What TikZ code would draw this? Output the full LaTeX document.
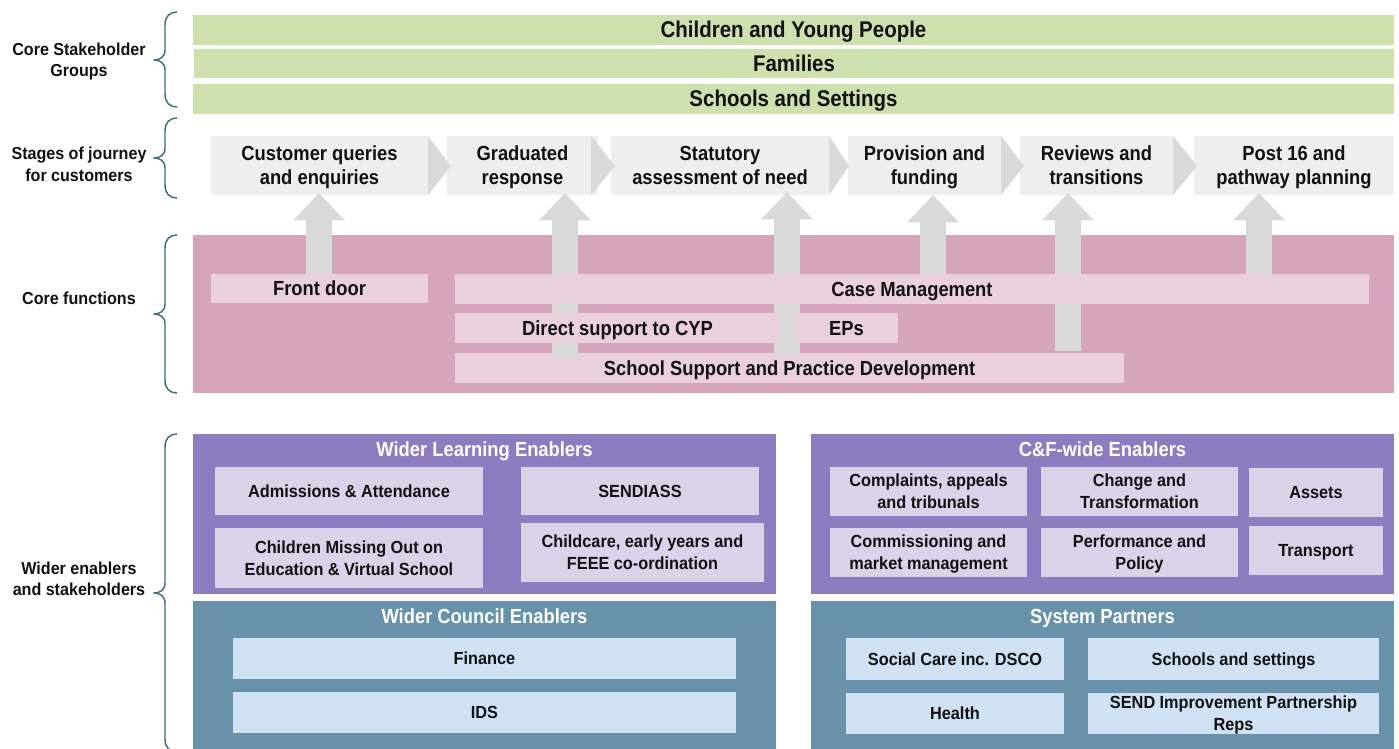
\documentclass[tikz,border=0pt]{standalone}
\usepackage{fontspec}
\setmainfont{Liberation Sans}
\newfontfamily\condfont{Liberation Sans}[FakeStretch=0.9]
\newfontfamily\midfont{Liberation Sans}[FakeStretch=0.93]
\usetikzlibrary{arrows.meta}
\definecolor{greenbar}{HTML}{CDE0AE}
\definecolor{stagegrey}{HTML}{EEEEEE}
\definecolor{chevgrey}{HTML}{D9D9D9}
\definecolor{pinkpanel}{HTML}{D5A4BD}
\definecolor{pinklight}{HTML}{EAD0DC}
\definecolor{purplepanel}{HTML}{8E7CC0}
\definecolor{purplelight}{HTML}{DAD2E8}
\definecolor{tealpanel}{HTML}{6792A9}
\definecolor{bluelight}{HTML}{CFE1F2}
\definecolor{bracecol}{HTML}{3F7079}
\definecolor{inktext}{HTML}{111111}
\newcommand\msz[2]{\midfont\fontsize{#1}{#2}\selectfont\bfseries}
\newcommand\csz[2]{\condfont\fontsize{#1}{#2}\selectfont\bfseries}
\newcommand\mystrut{\vrule height .9em depth .2em width 0pt\relax}
\tikzset{
  base/.style={inner sep=0pt,outer sep=0pt,align=flush center,text=inktext,execute at begin node={\spaceskip=.25em\relax\mystrut},execute at end node=\mystrut},
  greenbox/.style={base,fill=greenbar,font=\csz{17.05}{18}},
  stagebox/.style={base,fill=stagegrey,font=\csz{15.3}{18}},
  chev/.style={fill=chevgrey},
  pinkbg/.style={base,fill=pinkpanel},
  funcbox/.style={base,fill=pinklight,font=\csz{15.3}{18}},
  purplebg/.style={base,fill=purplepanel},
  tealbg/.style={base,fill=tealpanel},
  lilacbox/.style={base,fill=purplelight,font=\msz{13.15}{16.5}},
  bluebox/.style={base,fill=bluelight,font=\msz{13.15}{16.5}},
  paneltitle/.style={base,text=white,font=\csz{15.3}{17}},
  sidelabel/.style={base,font=\msz{13}{16}},
  bracket/.style={draw=bracecol,line width=1.1pt,fill=none,line join=round},
  fatarrow/.style={draw=chevgrey,line width=19.5pt,-{Triangle[length=20.5pt,width=37.5pt,fill=chevgrey]}},
}
\newcommand\mybox[7]{%
  \pgfmathsetlengthmacro\bw{(#4-#2)*0.75pt}%
  \pgfmathsetlengthmacro\bh{(#5-#3)*0.75pt}%
  \node[#6,anchor=north west,minimum width=\bw,minimum height=\bh,text width=\bw] (#1) at (#2,#3) {#7};}
\newcommand\mybrace[3]{%
  \draw[bracket] (177,#1) .. controls (170,#1) and (165,#1+4) .. (165,#1+13)
    -- (165,#2-10) .. controls (165,#2-3) and (160,#2) .. (154,#2)
    .. controls (160,#2) and (165,#2+3) .. (165,#2+10)
    -- (165,#3-13) .. controls (165,#3-4) and (170,#3) .. (177,#3);}
\newcommand\mychev[3]{\fill[chev] (#1,136) -- (#2,#3) -- (#1,195) -- cycle;}
\begin{document}
\begin{tikzpicture}[x=0.75pt,y=-0.75pt]
\clip (0,0) rectangle (1399,749);
\fill[white] (0,0) rectangle (1399,749);
\mybox{g1}{193}{15}{1394}{45}{greenbox}{Children and Young People}
\mybox{g2}{194}{49}{1394}{78}{greenbox}{Families}
\mybox{g3}{193}{84}{1394}{114}{greenbox}{Schools and Settings}
\mybrace{12}{60}{107}
\mybrace{118}{158}{198}
\mybrace{235}{314}{393}
\mybrace{434}{593}{752}
\node[sidelabel] (l1) at (79,61.5) {Core Stakeholder\\Groups};
\node[sidelabel] (l2) at (79,166) {Stages of journey\\for customers};
\node[sidelabel] (l3) at (79,298) {Core functions};
\node[sidelabel] (l4) at (79,580.5) {Wider enablers\\and stakeholders};
\mybox{s1}{211}{136}{428}{195}{stagebox}{Customer queries\\and enquiries}
\mybox{s2}{447}{136}{598}{195}{stagebox}{Graduated\\response}
\mybox{s3}{611}{136}{829}{195}{stagebox}{Statutory\\assessment of need}
\mybox{s4}{848}{136}{1001}{195}{stagebox}{Provision and\\funding}
\mybox{s5}{1020}{136}{1173}{195}{stagebox}{Reviews and\\transitions}
\mybox{s6}{1194}{136}{1394}{195}{stagebox}{Post 16 and\\pathway planning}
\mychev{428}{451}{166}
\mychev{591}{615}{166}
\mychev{829}{849}{166}
\mychev{1001}{1024}{166}
\mychev{1173}{1197}{166}
\mybox{pink}{193}{235}{1394}{393}{pinkbg}{}
\mybox{f5}{455}{353}{1124}{383}{funcbox}{School Support and Practice Development}
\coordinate (a1a) at (319,280); \coordinate (a1b) at (319,193);
\coordinate (a2a) at (565,358); \coordinate (a2b) at (565,193);
\coordinate (a3a) at (787,355); \coordinate (a3b) at (787,192);
\coordinate (a4a) at (933,280); \coordinate (a4b) at (933,195);
\coordinate (a5a) at (1068,351); \coordinate (a5b) at (1068,193);
\coordinate (a6a) at (1259,280); \coordinate (a6b) at (1259,193);
\foreach \k in {1,...,6}{\draw[fatarrow] (a\k a) -- (a\k b);}
\mybox{f1}{211}{274}{428}{303}{funcbox}{Front door}
\mybox{f2}{455}{274}{1369}{304}{funcbox}{Case Management}
\mybox{f3}{455}{313}{780}{343}{funcbox}{Direct support to CYP}
\mybox{f4}{795}{313}{898}{343}{funcbox}{EPs}
\mybox{pl}{193}{434}{776}{594}{purplebg}{}
\mybox{pr}{811}{434}{1394}{594}{purplebg}{}
\mybox{tl}{193}{601}{776}{752}{tealbg}{}
\mybox{tr}{811}{601}{1394}{752}{tealbg}{}
\node[paneltitle] (tt1) at (484.5,449) {Wider Learning Enablers};
\node[paneltitle] (tt2) at (1102.5,449) {C\&F-wide Enablers};
\node[paneltitle] (tt3) at (484.5,616) {Wider Council Enablers};
\node[paneltitle] (tt4) at (1102.5,616) {System Partners};
\mybox{w1}{215}{467}{483}{515}{lilacbox}{Admissions \& Attendance}
\mybox{w2}{521}{467}{759}{515}{lilacbox}{SENDIASS}
\mybox{w3}{215}{528}{483}{588}{lilacbox}{Children Missing Out on\\Education \& Virtual School}
\mybox{w4}{521}{523}{764}{582}{lilacbox}{Childcare, early years and\\FEEE co-ordination}
\mybox{c1}{830}{467}{1027}{516}{lilacbox}{Complaints, appeals\\and tribunals}
\mybox{c2}{1041}{467}{1238}{516}{lilacbox}{Change and\\Transformation}
\mybox{c3}{1249}{468}{1383}{517}{lilacbox}{Assets}
\mybox{c4}{830}{528}{1027}{577}{lilacbox}{Commissioning and\\market management}
\mybox{c5}{1041}{528}{1238}{577}{lilacbox}{Performance and\\Policy}
\mybox{c6}{1249}{526}{1383}{575}{lilacbox}{Transport}
\mybox{b1}{233}{638}{736}{679}{bluebox}{Finance}
\mybox{b2}{233}{692}{736}{733}{bluebox}{IDS}
\mybox{p1}{846}{638}{1064}{680}{bluebox}{Social Care inc. DSCO}
\mybox{p2}{1088}{638}{1379}{680}{bluebox}{Schools and settings}
\mybox{p3}{846}{693}{1064}{734}{bluebox}{Health}
\mybox{p4}{1088}{693}{1379}{734}{bluebox}{SEND Improvement Partnership\\Reps}
\end{tikzpicture}
\end{document}
